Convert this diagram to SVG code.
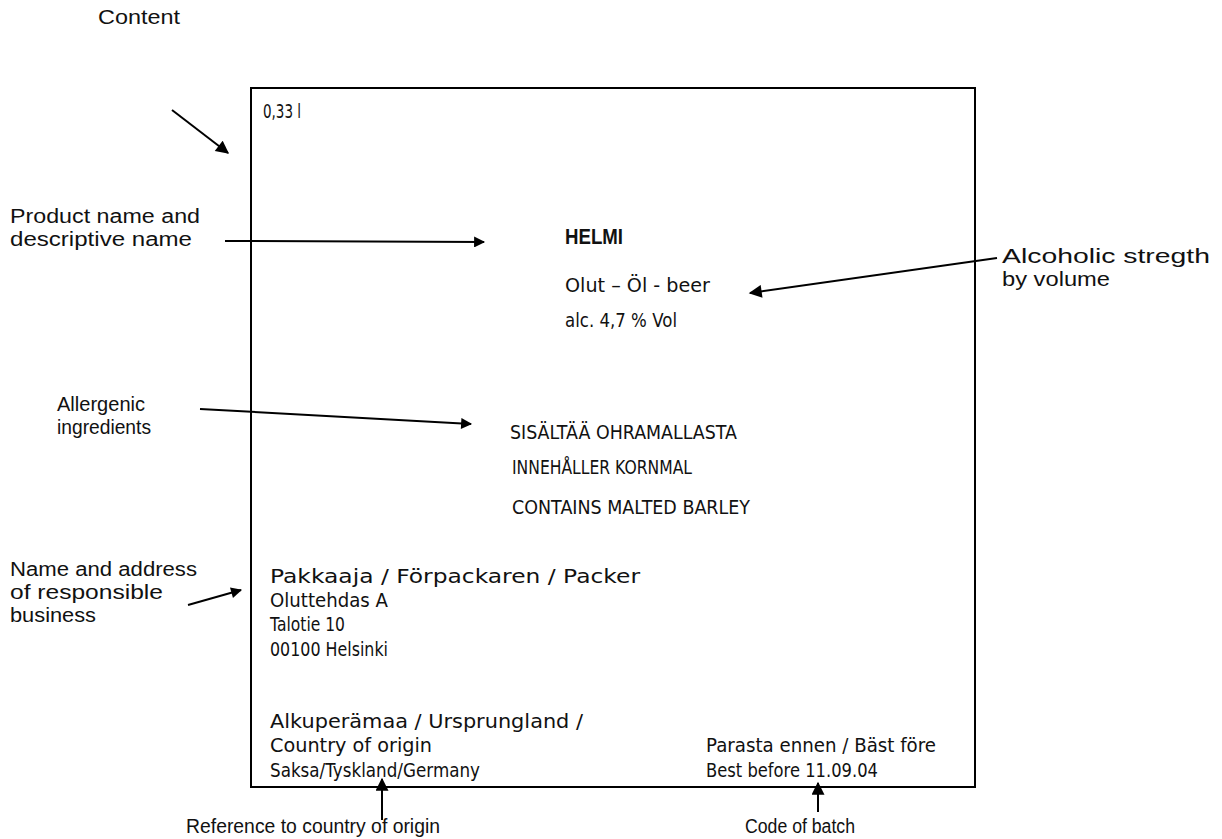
<svg xmlns="http://www.w3.org/2000/svg" width="1222" height="839" viewBox="0 0 1222 839">
<defs>
<marker id="ah" viewBox="0 0 10 10" refX="9" refY="5" markerWidth="12" markerHeight="11" markerUnits="userSpaceOnUse" orient="auto"><path d="M0,0 L10,5 L0,10 z" fill="#000"/></marker>
<marker id="ahb" viewBox="0 0 10 10" refX="9" refY="5" markerWidth="15" markerHeight="13" markerUnits="userSpaceOnUse" orient="auto"><path d="M0,0 L10,5 L0,10 z" fill="#000"/></marker>
</defs>
<style>
.lbl{font-family:"Liberation Sans",Arial,sans-serif;font-size:20px;fill:#111}
.t{font-family:"DejaVu Sans","Liberation Sans",sans-serif;font-size:19px;fill:#111}
.c{stroke:#000;stroke-width:2;fill:none}
</style>
<rect x="0" y="0" width="1222" height="839" fill="#fff"/>
<g id="label-box">
<rect x="251" y="88" width="724" height="699" fill="none" stroke="#000" stroke-width="2"/>
<text class="t" x="263" y="118" font-size="16" textLength="38" lengthAdjust="spacingAndGlyphs">0,33 l</text>
<text x="565" y="244" font-family="Liberation Sans, Arial, sans-serif" font-weight="bold" font-size="22" fill="#111" textLength="58" lengthAdjust="spacingAndGlyphs">HELMI</text>
<text class="t" x="565" y="292" font-size="17" textLength="145" lengthAdjust="spacingAndGlyphs">Olut – Öl - beer</text>
<text class="t" x="565" y="327" font-size="17" textLength="112" lengthAdjust="spacingAndGlyphs">alc. 4,7 % Vol</text>
<text class="t" x="510" y="439" font-size="17" textLength="227" lengthAdjust="spacingAndGlyphs">SISÄLTÄÄ OHRAMALLASTA</text>
<text class="t" x="512" y="474" font-size="17" textLength="180" lengthAdjust="spacingAndGlyphs">INNEHÅLLER KORNMAL</text>
<text class="t" x="512" y="514" font-size="17" textLength="238" lengthAdjust="spacingAndGlyphs">CONTAINS MALTED BARLEY</text>
<text class="t" x="270" y="583" textLength="370" lengthAdjust="spacingAndGlyphs">Pakkaaja / Förpackaren / Packer</text>
<text class="t" x="270" y="607" textLength="118" lengthAdjust="spacingAndGlyphs">Oluttehdas A</text>
<text class="t" x="270" y="631" textLength="75" lengthAdjust="spacingAndGlyphs">Talotie 10</text>
<text class="t" x="270" y="656" textLength="118" lengthAdjust="spacingAndGlyphs">00100 Helsinki</text>
<text class="t" x="270" y="728" textLength="313" lengthAdjust="spacingAndGlyphs">Alkuperämaa / Ursprungland /</text>
<text class="t" x="270" y="752" textLength="162" lengthAdjust="spacingAndGlyphs">Country of origin</text>
<text class="t" x="270" y="777" textLength="210" lengthAdjust="spacingAndGlyphs">Saksa/Tyskland/Germany</text>
<text class="t" x="706" y="752" textLength="230" lengthAdjust="spacingAndGlyphs">Parasta ennen / Bäst före</text>
<text class="t" x="706" y="777" textLength="172" lengthAdjust="spacingAndGlyphs">Best before 11.09.04</text>
</g>
<g id="lbl-content"><text class="lbl" x="98" y="24" textLength="82" lengthAdjust="spacingAndGlyphs">Content</text></g>
<g id="lbl-product"><text class="lbl" x="10" y="223" textLength="190" lengthAdjust="spacingAndGlyphs">Product name and</text><text class="lbl" x="10" y="246" textLength="182" lengthAdjust="spacingAndGlyphs">descriptive name</text></g>
<g id="lbl-alcohol"><text class="lbl" x="1002" y="263" font-size="21" textLength="208" lengthAdjust="spacingAndGlyphs">Alcoholic stregth</text><text class="lbl" x="1002" y="286" font-size="21" textLength="108" lengthAdjust="spacingAndGlyphs">by volume</text></g>
<g id="lbl-allergen"><text class="lbl" x="57" y="411" textLength="88" lengthAdjust="spacingAndGlyphs">Allergenic</text><text class="lbl" x="57" y="434" textLength="94" lengthAdjust="spacingAndGlyphs">ingredients</text></g>
<g id="lbl-business"><text class="lbl" x="10" y="576" textLength="187" lengthAdjust="spacingAndGlyphs">Name and address</text><text class="lbl" x="10" y="599" textLength="153" lengthAdjust="spacingAndGlyphs">of responsible</text><text class="lbl" x="10" y="622" textLength="86" lengthAdjust="spacingAndGlyphs">business</text></g>
<g id="lbl-country"><text class="lbl" x="186" y="833" font-size="21" textLength="254" lengthAdjust="spacingAndGlyphs">Reference to country of origin</text></g>
<g id="lbl-batch"><text class="lbl" x="745" y="833" font-size="21" textLength="110" lengthAdjust="spacingAndGlyphs">Code of batch</text></g>
<g id="connectors">
<line class="c" x1="172" y1="110" x2="228" y2="153" marker-end="url(#ahb)" stroke-width="3"/>
<line class="c" x1="225" y1="241" x2="484" y2="242" marker-end="url(#ah)"/>
<line class="c" x1="997" y1="258" x2="750" y2="293" marker-end="url(#ahb)"/>
<line class="c" x1="200" y1="409" x2="471" y2="424" marker-end="url(#ah)"/>
<line class="c" x1="188" y1="605" x2="241" y2="590" marker-end="url(#ah)"/>
<line class="c" x1="382" y1="820" x2="382" y2="779" marker-end="url(#ahb)"/>
<line class="c" x1="818" y1="812" x2="818" y2="783" marker-end="url(#ahb)"/>
</g>
</svg>
